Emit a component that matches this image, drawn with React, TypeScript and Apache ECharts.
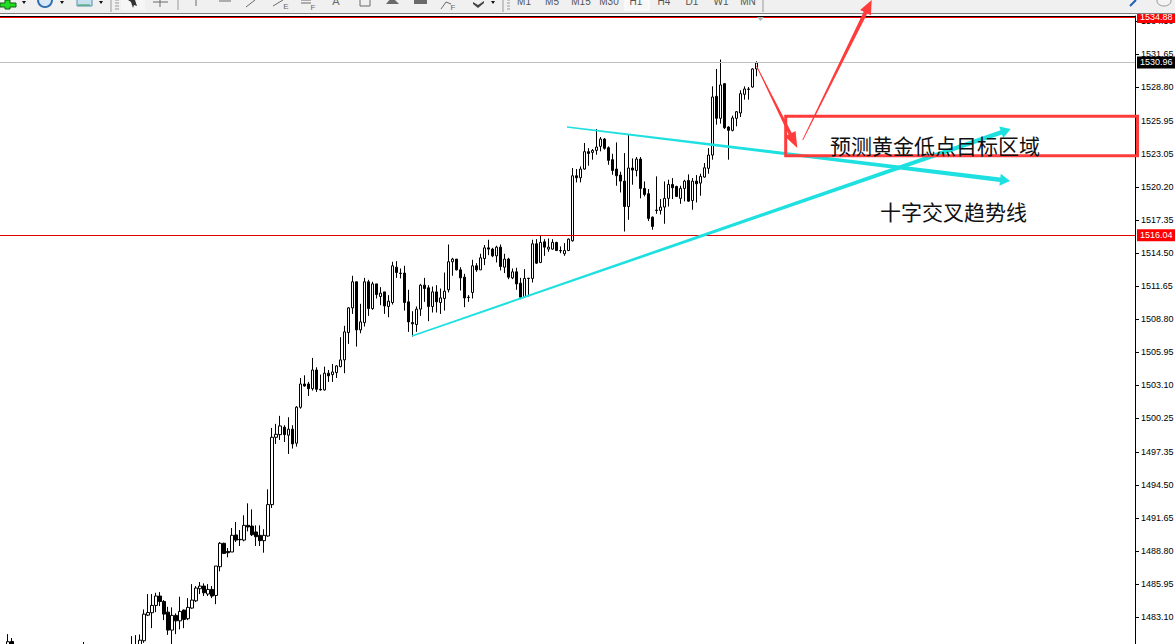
import React, { useEffect, useRef } from "react";
import * as echarts from "echarts";

// Bars are indexed from the left edge of the chart; index 33 is the first of the main run.
const totalSlots = 284;
const firstIndex = 33;

const opens = [
  1480.2,1480.2,1480.2,1481.05,1483.26,1483.47,1484.10,1484.91,1484.44,1483.52,
  1481.97,1483.24,1482.77,1483.70,1482.95,1483.87,1484.50,1485.54,1485.77,1485.08,
  1485.48,1484.96,1487.44,1489.46,1488.76,1488.71,1490.18,1489.80,1489.74,1491.01,
  1490.95,1490.44,1490.15,1489.69,1490.09,1492.80,1498.61,1498.84,1499.48,1498.79,
  1499.31,1498.10,
  1501.20,1503.21,1503.21,1502.81,1504.42,1502.75,1502.70,1504.14,1504.02,1504.19,
  1504.71,1505.29,1507.65,1509.78,1512.03,1507.88,1508.51,1512.03,1509.72,1511.85,
  1510.76,1511.16,1509.90,1510.24,1513.29,1512.78,1512.78,1510.30,1508.51,1508.34,
  1509.67,1511.74,1511.51,1509.90,1511.16,1510.24,1510.59,1511.34,1513.76,1513.99,
  1513.06,1512.43,1510.70,1511.11,1513.41,1513.06,1514.04,1514.96,1514.85,1514.27,
  1515.02,1513.29,1513.99,1512.37,1512.89,1511.91,1510.76,1512.34,1512.32,1515.31,
  1513.70,1515.48,1514.85,1514.85,1515.43,1514.73,1514.45,1514.73,
  1515.57,1521.18,1521.01,1521.76,1523.26,1523.20,1523.37,1523.72,1524.35,1523.60,
  1522.57,1521.76,1521.24,1520.72,1518.53,1521.85,1521.64,1522.62,1520.09,1519.63,
  1517.61,1518.22,1518.19,1518.48,1519.23,1520.43,1520.26,1519.23,1520.09,1520.78,
  1519.05,1520.72,1520.55,1521.07,1521.82,1522.97,1528.04,1526.14,1529.13,1525.39,
  1525.10,1526.14,1526.60,1528.21,1528.67,1528.84,1530.40,
];
const closes = [
  1480.6,1480.7,1481.10,1483.35,1483.49,1484.10,1484.91,1484.44,1483.35,1481.97,
  1483.24,1482.77,1483.58,1482.89,1483.93,1484.56,1485.60,1485.77,1485.19,1485.48,
  1484.91,1487.50,1489.46,1488.59,1488.65,1490.15,1489.74,1489.77,1491.01,1490.87,
  1490.20,1490.03,1489.69,1490.15,1492.80,1498.61,1498.87,1499.59,1498.84,1499.31,
  1498.04,1501.21,
  1503.21,1503.04,1502.81,1504.42,1502.75,1502.70,1504.14,1503.91,1504.25,1504.77,
  1505.29,1507.71,1509.78,1512.03,1507.88,1508.57,1512.03,1509.72,1511.85,1510.93,
  1511.05,1509.95,1510.36,1513.41,1512.83,1512.75,1510.24,1508.57,1508.40,1509.67,
  1511.74,1511.45,1509.90,1511.16,1510.30,1510.64,1511.22,1513.76,1513.99,1513.06,
  1512.37,1510.64,1510.67,1513.41,1513.06,1514.10,1514.96,1514.85,1514.27,1515.02,
  1513.35,1513.99,1512.43,1512.89,1511.85,1510.70,1512.32,1512.32,1515.31,1513.64,
  1515.43,1515.02,1515.02,1515.43,1514.73,1514.70,1514.73,1515.71,
  1521.18,1521.01,1521.76,1523.26,1523.11,1523.37,1523.66,1524.35,1523.55,1522.51,
  1521.64,1521.18,1520.72,1518.53,1521.85,1521.67,1522.62,1520.09,1519.57,1517.50,
  1516.81,1518.19,1518.48,1519.23,1520.43,1520.15,1519.40,1520.09,1520.72,1518.99,
  1520.72,1520.49,1521.13,1521.87,1522.97,1527.98,1526.14,1529.02,1525.33,1525.10,
  1526.17,1526.71,1528.27,1528.67,1528.64,1530.40,1530.92,
];
const lows = [
  1480.0,1479.9,1480.0,1480.87,1483.18,1482.14,1483.52,1484.04,1482.83,1481.56,
  1480.76,1481.62,1482.03,1482.14,1482.83,1483.81,1484.39,1485.08,1484.91,1484.91,
  1484.73,1484.21,1487.04,1488.53,1488.25,1488.71,1489.57,1489.23,1489.63,1490.49,
  1490.09,1489.23,1489.23,1488.65,1490.03,1492.51,1498.04,1498.38,1498.21,1497.17,
  1497.64,1497.81,
  1501.08,1502.98,1502.18,1502.64,1502.52,1502.64,1502.64,1503.39,1503.39,1503.73,
  1504.65,1504.14,1506.67,1509.26,1506.44,1507.59,1508.17,1509.09,1509.61,1510.59,
  1510.01,1509.26,1508.97,1510.07,1512.37,1512.32,1509.55,1507.71,1507.30,1507.71,
  1509.09,1510.30,1508.63,1509.38,1509.38,1509.26,1509.55,1511.11,1512.55,1513.01,
  1511.28,1509.84,1510.30,1510.59,1512.89,1513.06,1513.47,1514.33,1514.16,1513.70,
  1513.01,1512.78,1512.26,1512.26,1511.34,1510.53,1510.70,1510.76,1511.97,1513.58,
  1513.64,1514.27,1514.62,1514.79,1514.68,1514.50,1514.27,1514.68,
  1515.50,1520.61,1520.61,1521.70,1522.05,1522.57,1523.00,1523.29,1523.43,1522.13,
  1521.27,1520.32,1519.74,1516.37,1517.38,1520.41,1521.13,1519.23,1519.40,1517.27,
  1516.52,1517.90,1517.84,1517.04,1518.53,1519.17,1519.34,1518.76,1518.97,1518.94,
  1518.25,1518.88,1519.46,1521.01,1521.36,1522.57,1525.59,1525.68,1525.22,1522.57,
  1525.01,1525.45,1526.25,1527.75,1527.75,1528.78,1529.77,
];
const highs = [
  1481.45,1481.54,1481.59,1483.75,1485.08,1485.08,1485.19,1485.25,1484.56,1483.98,
  1483.93,1483.41,1484.85,1483.75,1484.73,1485.94,1485.77,1486.12,1486.00,1485.94,
  1485.77,1487.50,1489.57,1489.51,1489.05,1490.78,1491.30,1490.61,1491.88,1492.91,
  1492.39,1491.01,1491.01,1490.67,1494.12,1499.42,1499.77,1500.46,1499.65,1500.34,
  1499.65,1501.30,
  1503.73,1503.96,1503.39,1505.46,1504.65,1504.02,1504.71,1504.42,1504.94,1504.83,
  1507.25,1508.23,1509.84,1512.55,1512.03,1510.13,1512.37,1512.20,1512.03,1511.85,
  1511.57,1511.16,1510.88,1513.76,1513.81,1513.18,1513.41,1511.34,1509.49,1509.90,
  1511.85,1512.37,1511.74,1511.62,1511.74,1511.45,1512.83,1515.25,1514.10,1513.99,
  1513.29,1512.72,1510.88,1513.93,1513.64,1514.45,1515.20,1515.66,1514.96,1515.14,
  1515.25,1514.45,1514.10,1513.18,1513.24,1512.37,1513.12,1512.34,1515.66,1515.71,
  1516.06,1515.71,1515.77,1515.71,1515.48,1515.08,1515.37,1515.77,
  1521.85,1521.76,1521.99,1524.01,1523.57,1523.49,1525.22,1524.52,1524.44,1523.72,
  1523.08,1524.06,1521.53,1523.14,1524.73,1522.68,1522.80,1522.80,1520.69,1520.03,
  1517.67,1521.13,1519.17,1520.69,1520.84,1520.98,1520.32,1520.32,1520.84,1521.30,
  1520.98,1521.24,1521.36,1522.28,1523.57,1528.90,1530.40,1531.21,1529.19,1525.45,
  1526.37,1526.77,1528.56,1528.90,1528.84,1530.46,1531.06,
];
// The few bars of the earlier run that just reach the bottom edge: [index, open, close, low, high]
const earlyBars = [
  [2, 1480.0, 1480.97, 1479.7, 1481.62],
  [3, 1480.99, 1480.1, 1479.8, 1481.29],
  [21, 1480.2, 1480.5, 1480.0, 1480.94],
];

const tickValues = [
  1483.1, 1485.95, 1488.8, 1491.65, 1494.5, 1497.35, 1500.25, 1503.1, 1505.95,
  1508.8, 1511.65, 1514.5, 1517.35, 1520.2, 1523.05, 1525.95, 1528.8, 1531.65, 1534.5,
];
const priceLines = [
  { value: 1534.88, label: "1534.88", line: "#ff0000", tag: "#ff0000" },
  { value: 1530.96, label: "1530.96", line: "#c0c0c0", tag: "#000000" },
  { value: 1516.04, label: "1516.04", line: "#e00000", tag: "#ff0000" },
];
const toolbarLabels: [string, number][] = [
  ["M1", 524], ["M5", 552], ["M15", 581], ["M30", 609],
  ["H1", 636], ["H4", 664], ["D1", 692], ["W1", 721], ["MN", 748],
];
const targetZoneText = "预测黄金低点目标区域";
const crossTrendText = "十字交叉趋势线";

const RED = "#ff3b3b";
const CYAN = "#1ee0e0";

function arrow(
  sx: number, sy: number, tx: number, ty: number,
  w0: number, w1: number, headLen: number, headHalf: number, color: string,
) {
  const d = Math.hypot(tx - sx, ty - sy);
  const ux = (tx - sx) / d, uy = (ty - sy) / d;
  const nx = -uy, ny = ux;
  const bx = tx - ux * headLen, by = ty - uy * headLen;
  return {
    type: "polygon", z: 50, silent: true,
    shape: {
      points: [
        [sx + nx * w0 / 2, sy + ny * w0 / 2],
        [bx + nx * w1 / 2, by + ny * w1 / 2],
        [bx + nx * headHalf, by + ny * headHalf],
        [tx, ty],
        [bx - nx * headHalf, by - ny * headHalf],
        [bx - nx * w1 / 2, by - ny * w1 / 2],
        [sx - nx * w0 / 2, sy - ny * w0 / 2],
      ],
    },
    style: { fill: color },
  };
}

function toolbar() {
  const g = "#6a6a6a";
  const line = (x1: number, y1: number, x2: number, y2: number, stroke = g, lineWidth = 1) => ({
    type: "line", z: 41, silent: true, shape: { x1, y1, x2, y2 }, style: { stroke, lineWidth },
  });
  const rect = (x: number, y: number, width: number, height: number, fill: string, stroke?: string) => ({
    type: "rect", z: 40, silent: true, shape: { x, y, width, height }, style: { fill, stroke, lineWidth: 1 },
  });
  const txt = (text: string, x: number, y: number, fill = "#555", fontSize = 10) => ({
    type: "text", z: 42, silent: true, x, y,
    style: { text, fill, fontSize, fontFamily: "Liberation Sans", align: "center", verticalAlign: "middle" },
  });
  const drop = (x: number) => ({
    type: "polygon", z: 42, silent: true,
    shape: { points: [[x - 2, 1], [x + 2, 1], [x, 4]] }, style: { fill: "#111" },
  });
  return [
    rect(0, 0, 1175, 13, "#f0f0f0"),
    rect(0, 13, 1175, 1, "#808080"),
    // new-order plus, clock, chart icons
    { type: "polygon", z: 42, silent: true, shape: { points: [[5, 0], [10, 0], [10, 3], [16, 3], [16, 7], [10, 7], [10, 9], [5, 9], [5, 7], [0, 7], [0, 3], [5, 3]] }, style: { fill: "#22dd22", stroke: "#106010", lineWidth: 1 } },
    { type: "circle", z: 42, silent: true, shape: { cx: 45, cy: 0, r: 7 }, style: { fill: "#d8e8f8", stroke: "#3070b0", lineWidth: 2 } },
    rect(77, -1, 15, 7, "#c8e0f0", "#5090b0"),
    line(78, 5, 90, 5, "#30a050"),
    drop(24), drop(62), drop(101),
    line(111, 0, 111, 12, "#999"),
    line(115, 0, 119, 0, "#999"), line(115, 3, 119, 3, "#999"), line(115, 6, 119, 6, "#999"), line(115, 9, 119, 9, "#999"),
    rect(121, 0, 24, 10, "#f6f6f6"),
    { type: "polygon", z: 42, silent: true, shape: { points: [[128, 0], [135, 0], [137, 6], [134, 5], [133, 8], [131, 2]] }, style: { fill: "#333" } },
    line(153, 2, 168, 2), line(160, 0, 160, 7),
    line(178, 0, 178, 10, "#999"),
    line(196, 0, 196, 6),
    line(219, 1, 231, 1),
    line(246, 7, 255, 0),
    txt("E", 286, 6, g, 8), line(273, 6, 283, 0),
    txt("F", 313, 7, g, 8), line(301, 3, 311, 3), line(301, 0, 311, 0),
    txt("A", 336, 1, g, 11),
    rect(360, -2, 10, 8, "#f0f0f0", g),
    { type: "polygon", z: 42, silent: true, shape: { points: [[392, -3], [386, 4], [399, 4]] }, style: { fill: g } },
    rect(414, -3, 13, 7, g),
    line(441, 9, 446, 2), line(446, 2, 451, 4),
    txt("F", 453, 7, g, 8),
    { type: "polygon", z: 42, silent: true, shape: { points: [[473, 2], [478, 5], [484, 1], [484, 3], [478, 8], [473, 4]] }, style: { fill: "#444" } },
    drop(493),
    line(503, 0, 503, 12, "#999"),
    line(507, 0, 510, 0, "#999"), line(507, 3, 510, 3, "#999"), line(507, 6, 510, 6, "#999"), line(507, 9, 510, 9, "#999"),
    rect(625, 0, 24, 10, "#f7f7f7", "#fff"),
    ...toolbarLabels.map(([t, x]) => txt(t, x, 1)),
    line(763, 0, 763, 12, "#999"),
    // marker under the toolbar
    { type: "polygon", z: 42, silent: true, shape: { points: [[757, 17], [764, 17], [760.5, 21]] }, style: { fill: "#b0b0b0" } },
    // right-hand search and chat icons
    line(1130, 6, 1136, 0, "#2060b0", 2),
    { type: "ellipse", z: 42, silent: true, shape: { cx: 1164, cy: 1, rx: 7, ry: 5 }, style: { fill: "#f4f4f4", stroke: "#999", lineWidth: 1 } },
  ];
}

export default function App() {
  const ref = useRef<HTMLDivElement>(null);

  useEffect(() => {
    if (!ref.current) return;
    const chart = echarts.init(ref.current, undefined, { renderer: "svg" });

    const categories = Array.from({ length: totalSlots }, (_, i) => String(i));
    const series: any[] = categories.map(() => "-");
    earlyBars.forEach(([i, o, c, l, h]) => { series[i] = [o, c, l, h]; });
    opens.forEach((o, i) => { series[firstIndex + i] = [o, closes[i], lows[i], highs[i]]; });

    chart.setOption({
      animation: false,
      backgroundColor: "#ffffff",
      grid: { left: -2, top: 16, width: 1137, height: 628, containLabel: false, outerBoundsMode: "none" },
      xAxis: {
        type: "category", data: categories, position: "top",
        axisLine: { show: true, lineStyle: { color: "#000", width: 1 } },
        axisTick: { show: false }, axisLabel: { show: false }, splitLine: { show: false },
      },
      yAxis: {
        type: "value", position: "right", min: 1480.77, max: 1534.97, scale: true,
        axisLine: { show: true, lineStyle: { color: "#000", width: 1 } },
        axisTick: { show: true, length: 4, lineStyle: { color: "#000" }, customValues: tickValues },
        axisLabel: {
          show: true, customValues: tickValues, margin: 6, color: "#000",
          fontSize: 9, fontFamily: "Liberation Sans",
          formatter: (v: number) => v.toFixed(2),
        },
        splitLine: { show: false },
      },
      series: [
        {
          type: "candlestick", data: series, barWidth: 3,
          itemStyle: { color: "#ffffff", color0: "#000000", borderColor: "#000000", borderColor0: "#000000", borderColorDoji: "#000000", borderWidth: 1 },
          markLine: {
            silent: true, symbol: "none", animation: false,
            data: priceLines.map((p) => ({
              yAxis: p.value,
              lineStyle: { color: p.line, width: 1, type: "solid" },
              label: {
                show: true, position: "end", distance: 2, formatter: p.label, color: "#fff",
                backgroundColor: p.tag, padding: [2, 3, 1, 3], fontSize: 9, fontFamily: "Liberation Sans",
              },
            })),
          },
        },
      ],
      graphic: [
        ...toolbar(),
        arrow(412, 336, 1010.7, 129, 1.5, 4.5, 10, 6, CYAN),
        arrow(567, 127, 1010, 181, 1.5, 4.5, 10, 6, CYAN),
        arrow(756.5, 66, 797.3, 148, 0.8, 3.5, 16, 6, RED),
        arrow(802.7, 140, 871.7, 0, 0.8, 4, 14, 6, RED),
        { type: "rect", z: 52, silent: true, shape: { x: 785.7, y: 116.3, width: 351.8, height: 39.5 }, style: { fill: "none", stroke: RED, lineWidth: 3 } },
        { type: "text", z: 53, silent: true, x: 830, y: 145, style: { text: targetZoneText, fill: "#111", fontSize: 21, fontFamily: "Noto Sans CJK SC", verticalAlign: "middle" } },
        { type: "text", z: 53, silent: true, x: 880, y: 211, style: { text: crossTrendText, fill: "#111", fontSize: 21, fontFamily: "Noto Sans CJK SC", verticalAlign: "middle" } },
      ],
    });
    return () => chart.dispose();
  }, []);

  return <div ref={ref} style={{ position: "absolute", left: 0, top: 0, width: 1175, height: 644 }} />;
}
